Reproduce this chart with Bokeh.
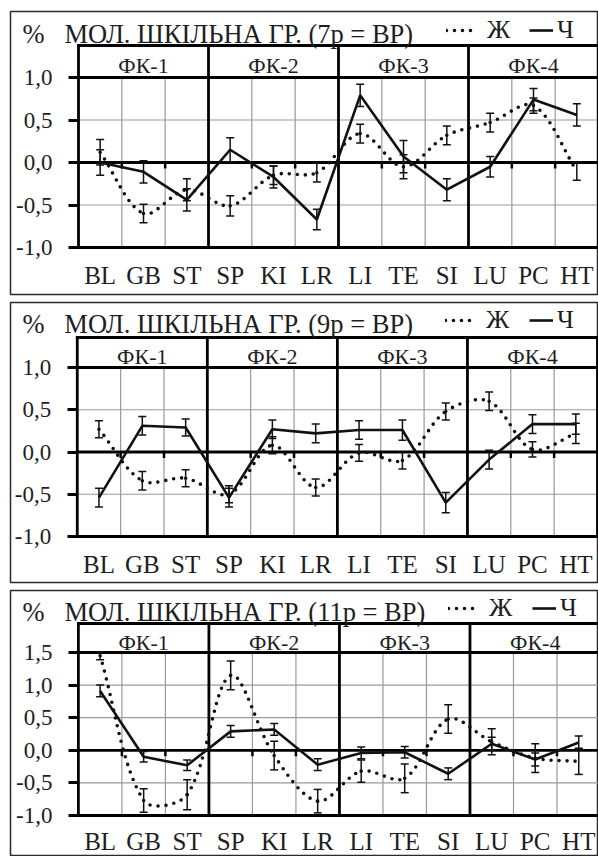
import math
from bokeh.plotting import figure
from bokeh.layouts import column
from bokeh.models import (Range1d, FixedTicker, CustomJSTickFormatter, Label, Legend,
                          LegendItem, Whisker, TeeHead, ColumnDataSource, LinearAxis)
from bokeh.core.properties import value
from bokeh.embed import file_html
from bokeh.resources import INLINE

# ---------------- data ----------------
cats = ["BL", "GB", "ST", "SP", "KI", "LR", "LI", "TE", "SI", "LU", "PC", "HT"]
groups = ["ФК-1", "ФК-2", "ФК-3", "ФК-4"]
unit_label = "%"
titles = ["МОЛ. ШКІЛЬНА ГР. (7р = ВР)",
          "МОЛ. ШКІЛЬНА ГР. (9р = ВР)",
          "МОЛ. ШКІЛЬНА ГР. (11р = ВР)"]
legend_f = "Ж"
legend_m = "Ч"
yticks_a = [-1.0, -0.5, 0.0, 0.5, 1.0]
yticks_b = [-1.0, -0.5, 0.0, 0.5, 1.0, 1.5]

# 7 years
f7 = [0.12, -0.60, -0.32, -0.51, -0.15, -0.12, 0.34, -0.05, 0.32, 0.47, 0.67, -0.10]
f7_err = [0.15, 0.11, 0.13, 0.12, 0.11, 0.11, 0.11, 0.14, 0.11, 0.11, 0.09, 0.11]
m7 = [0.00, -0.11, -0.44, 0.15, -0.17, -0.67, 0.79, 0.07, -0.32, -0.05, 0.74, 0.56]
m7_err = [0.15, 0.13, 0.13, 0.14, 0.13, 0.12, 0.13, 0.19, 0.13, 0.12, 0.13, 0.13]
# 9 years
f9 = [0.27, -0.34, -0.31, -0.50, 0.08, -0.42, -0.01, -0.10, 0.48, 0.60, 0.03, 0.22]
f9_err = [0.10, 0.11, 0.10, 0.10, 0.10, 0.10, 0.10, 0.10, 0.10, 0.11, 0.09, 0.12]
m9 = [-0.54, 0.31, 0.29, -0.54, 0.27, 0.22, 0.26, 0.26, -0.60, -0.09, 0.33, 0.33]
m9_err = [0.11, 0.11, 0.10, 0.11, 0.11, 0.11, 0.11, 0.12, 0.12, 0.11, 0.11, 0.12]
# 11 years
f11 = [1.45, -0.77, -0.68, 1.15, -0.08, -0.78, -0.32, -0.43, 0.48, 0.13, -0.12, -0.17]
f11_err = [0.06, 0.18, 0.23, 0.22, 0.22, 0.18, 0.17, 0.22, 0.22, 0.20, 0.22, 0.20]
m11 = [0.91, -0.10, -0.23, 0.29, 0.32, -0.22, -0.04, -0.03, -0.36, 0.10, -0.14, 0.12]
m11_err = [0.09, 0.08, 0.08, 0.09, 0.09, 0.09, 0.09, 0.09, 0.09, 0.10, 0.10, 0.10]

# ---------------- style ----------------
FONT = "Liberation Serif"
TXT = "#1e1e1e"
INK = "#111111"
GRID = "#9a9a9a"
FIG_W = 598


def bezier_cols(xs, ys, sx, sy, s=1.0 / 3.0):
    """Smoothed-line control points (chord-length weighted Catmull-Rom)."""
    n = len(xs)
    P = list(zip(xs, ys))

    def seglen(a, b):
        return math.hypot((b[0] - a[0]) * sx, (b[1] - a[1]) * sy) or 1e-9

    handles_out, handles_in = [], []
    for i in range(n):
        pm = P[i - 1] if i > 0 else P[i]
        pp = P[i + 1] if i + 1 < n else P[i]
        d = (pp[0] - pm[0], pp[1] - pm[1])
        lin = seglen(pm, P[i]) if i > 0 else 0.0
        lout = seglen(P[i], pp) if i + 1 < n else 0.0
        tot = lin + lout
        rin = lin / tot * s
        rout = lout / tot * s
        handles_out.append((P[i][0] + d[0] * rout, P[i][1] + d[1] * rout))
        handles_in.append((P[i][0] - d[0] * rin, P[i][1] - d[1] * rin))
    out = {k: [] for k in ("x0", "y0", "x1", "y1", "cx0", "cy0", "cx1", "cy1")}
    for i in range(n - 1):
        out["x0"].append(P[i][0]); out["y0"].append(P[i][1])
        out["x1"].append(P[i + 1][0]); out["y1"].append(P[i + 1][1])
        out["cx0"].append(handles_out[i][0]); out["cy0"].append(handles_out[i][1])
        out["cx1"].append(handles_in[i + 1][0]); out["cy1"].append(handles_in[i + 1][1])
    return out


def make_panel(title, f, fe, m, me, ticks, g):
    """g: pixel geometry of the panel (page coordinates)."""
    n = len(cats)
    per = n // len(groups)
    ymin, yhead = ticks[0], ticks[-1]
    fig_h = g["fig_bottom"] - g["fig_top"]
    ppx = (g["plot_right"] - g["plot_left"]) / n
    ppu = (g["min_px"] - g["head_px"]) / (yhead - ymin)
    x0 = -(g["plot_left"] - g["frame_left"]) / ppx
    x1 = (FIG_W - g["plot_left"]) / ppx
    y1 = yhead + (g["head_px"] - g["frame_top"]) / ppu
    y0 = ymin - (g["frame_bottom"] - g["min_px"]) / ppu
    box_top = yhead + (g["head_px"] - g["box_top"]) / ppu

    p = figure(width=FIG_W, height=fig_h, x_range=Range1d(x0, x1), y_range=Range1d(y0, y1),
               output_backend="svg", toolbar_location=None,
               x_axis_location=None, y_axis_location=None,
               min_border_left=g["frame_left"], min_border_right=0,
               min_border_top=g["frame_top"] - g["fig_top"],
               min_border_bottom=g["fig_bottom"] - g["frame_bottom"],
               background_fill_color="white", border_fill_color="white",
               outline_line_color="#2a2a2a", outline_line_width=1.5)
    p.xgrid.visible = False
    p.ygrid.visible = False

    # axes drawn inside the panel frame
    xa = LinearAxis(fixed_location=ymin,
                    ticker=FixedTicker(ticks=[i + 0.5 for i in range(n)]),
                    formatter=CustomJSTickFormatter(args=dict(cats=cats),
                                                    code="return cats[Math.floor(tick)];"))
    xa.major_tick_line_color = None
    xa.major_tick_out = 0
    xa.major_tick_in = 0
    xa.minor_tick_line_color = None
    xa.axis_line_color = None
    xa.major_label_text_font = FONT
    xa.major_label_text_font_size = "25px"
    xa.major_label_text_color = TXT
    xa.major_label_standoff = g["lab_standoff"]
    p.add_layout(xa, "below")

    ya = LinearAxis(fixed_location=0, ticker=FixedTicker(ticks=ticks),
                    formatter=CustomJSTickFormatter(code="return tick.toFixed(1).replace('.', ',');"))
    ya.major_tick_out = 10
    ya.major_tick_in = 0
    ya.major_tick_line_width = 3
    ya.major_tick_line_color = "black"
    ya.minor_tick_line_color = None
    ya.axis_line_color = None
    ya.major_label_text_font = FONT
    ya.major_label_text_font_size = "23px"
    ya.major_label_text_color = TXT
    ya.major_label_standoff = 16
    p.add_layout(ya, "left")

    # gray grid: horizontal at ticks, vertical at category boundaries (below header)
    hg = [t for t in ticks if ymin < t < yhead]
    p.segment(x0=[0] * len(hg), y0=hg, x1=[n] * len(hg), y1=hg,
              line_color=GRID, line_width=1.2)
    bounds = [i for i in range(1, n) if i % per != 0]
    p.segment(x0=bounds, y0=[ymin] * len(bounds), x1=bounds, y1=[yhead] * len(bounds),
              line_color=GRID, line_width=1.2)

    # thick structural lines: box, group separators, header line, zero line
    gx = [k * per for k in range(len(groups) + 1)]
    p.segment(x0=gx, y0=[ymin] * len(gx), x1=gx, y1=[box_top] * len(gx),
              line_color="black", line_width=2.8)
    hy = [ymin, 0, yhead, box_top]
    p.segment(x0=[0] * len(hy), y0=hy, x1=[n] * len(hy), y1=hy,
              line_color="black", line_width=2.8, line_cap="square")
    tl = 6 / ppu
    p.segment(x0=bounds, y0=[0] * len(bounds), x1=bounds, y1=[-tl] * len(bounds),
              line_color="black", line_width=2.5)

    # group header labels
    p.text(x=[(k + 0.5) * per for k in range(len(groups))],
           y=[yhead + 0.36 * (box_top - yhead)] * len(groups), text=groups,
           text_font=value(FONT), text_font_size="22px", text_color=TXT,
           text_align="center", text_baseline="middle")

    xs = [i + 0.5 for i in range(n)]

    # dotted (Ж), smoothed line
    bsrc = ColumnDataSource(bezier_cols(xs, f, ppx, ppu))
    r_f = p.bezier(x0="x0", y0="y0", x1="x1", y1="y1", cx0="cx0", cy0="cy0",
                   cx1="cx1", cy1="cy1", source=bsrc, line_color=INK,
                   line_width=3.6, line_dash="0 8", line_cap="round")
    # solid (Ч)
    r_m = p.line(xs, m, line_color=INK, line_width=2.6)

    for vals, errs in ((f, fe), (m, me)):
        src = ColumnDataSource(dict(x=xs, upper=[v + e for v, e in zip(vals, errs)],
                                    lower=[v - e for v, e in zip(vals, errs)]))
        p.add_layout(Whisker(source=src, base="x", upper="upper", lower="lower",
                             line_color=INK, line_width=1.5, level="glyph",
                             upper_head=TeeHead(size=8, line_width=1.5, line_color=INK),
                             lower_head=TeeHead(size=8, line_width=1.5, line_color=INK)))

    # title row
    ty = yhead + (g["head_px"] - g["title_px"]) / ppu
    for txt, xpx in ((unit_label, g["pct_x"]), (title, g["title_x"])):
        p.add_layout(Label(x=(xpx - g["plot_left"]) / ppx, y=ty, text=txt, text_font=FONT,
                           text_font_size="26.5px", text_color=TXT,
                           text_baseline="middle", text_align="left"))

    # legends (two, placed like the reference)
    gh = 24
    H = g["frame_bottom"] - g["frame_top"]
    ly = H - (g["title_px"] - g["frame_top"]) - gh / 2
    for r, lab, lx, gw, st in ((r_f, legend_f, g["leg_f"], 30, 11),
                               (r_m, legend_m, g["leg_m"], 24, 4)):
        lg = Legend(items=[LegendItem(label=lab, renderers=[r])],
                    location=(lx - g["frame_left"], ly),
                    orientation="horizontal", glyph_width=gw, glyph_height=gh,
                    label_height=gh, label_standoff=st, padding=0, margin=0, spacing=0,
                    border_line_color=None, background_fill_alpha=0,
                    label_text_font=FONT, label_text_font_size="26px",
                    label_text_color=TXT, label_text_baseline="middle")
        p.add_layout(lg)
    return p


geo1 = dict(fig_top=0, fig_bottom=298, frame_left=10, frame_top=11, frame_bottom=294,
            plot_left=78, plot_right=598, box_top=45, head_px=77, min_px=247,
            title_px=33, pct_x=22, title_x=64, leg_f=446, leg_m=529, lab_standoff=14)
geo2 = dict(fig_top=298, fig_bottom=586, frame_left=8, frame_top=302, frame_bottom=582,
            plot_left=75, plot_right=597, box_top=337, head_px=367, min_px=536,
            title_px=323, pct_x=20, title_x=62, leg_f=443, leg_m=527, lab_standoff=14)
geo3 = dict(fig_top=586, fig_bottom=856, frame_left=9, frame_top=590, frame_bottom=856,
            plot_left=77, plot_right=600, box_top=623, head_px=652, min_px=815,
            title_px=611, pct_x=21, title_x=63, leg_f=447, leg_m=531, lab_standoff=12)

p1 = make_panel(titles[0], f7, f7_err, m7, m7_err, yticks_a, geo1)
p2 = make_panel(titles[1], f9, f9_err, m9, m9_err, yticks_a, geo2)
p3 = make_panel(titles[2], f11, f11_err, m11, m11_err, yticks_b, geo3)

layout = column(p1, p2, p3, spacing=0)
open("out.html", "w").write(file_html(layout, INLINE))
